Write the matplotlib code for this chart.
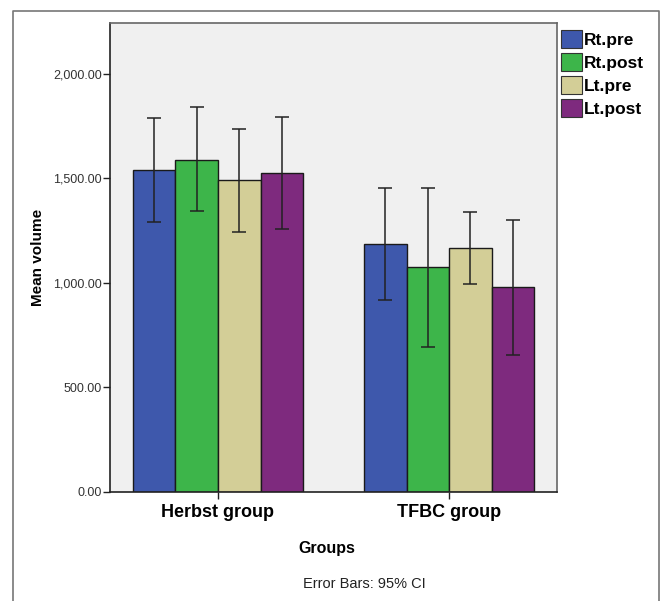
import matplotlib.pyplot as plt
import numpy as np
from matplotlib.lines import Line2D
from matplotlib.patches import Patch

plt.rcParams['font.family'] = ['Liberation Sans', 'DejaVu Sans']

groups = ['Herbst group', 'TFBC group']
series = ['Rt.pre', 'Rt.post', 'Lt.pre', 'Lt.post']
colors = ['#3E58AC', '#3DB54A', '#D3CE97', '#7E2A7E']

# mean volume per series, [Herbst, TFBC]
means = {
    'Rt.pre': [1540, 1187],
    'Rt.post': [1589, 1074],
    'Lt.pre': [1491, 1168],
    'Lt.post': [1526, 979],
}
ci_low = {
    'Rt.pre': [1293, 920],
    'Rt.post': [1345, 694],
    'Lt.pre': [1244, 993],
    'Lt.post': [1255, 656],
}
ci_high = {
    'Rt.pre': [1788, 1454],
    'Rt.post': [1839, 1454],
    'Lt.pre': [1737, 1340],
    'Lt.post': [1795, 1302],
}

fig = plt.figure(figsize=(6.61, 6.01), dpi=100)
ax = fig.add_axes([0.1664, 0.1814, 0.6763, 0.7803])
ax.set_facecolor('#F0F0F0')

x = np.arange(len(groups))
w = 0.184
for i, s in enumerate(series):
    pos = x + (i - 1.5) * w
    m = np.array(means[s])
    lo = m - np.array(ci_low[s])
    hi = np.array(ci_high[s]) - m
    ax.bar(pos, m, w, color=colors[i], edgecolor='#1a1a1a', linewidth=1, zorder=2)
    ax.errorbar(pos, m, yerr=[lo, hi], fmt='none', ecolor='#222222',
                elinewidth=1.1, capsize=5, capthick=1.1, zorder=3)

ax.set_xlim(-0.4675, 1.4675)
ax.set_ylim(0, 2242)
ax.set_yticks([0, 500, 1000, 1500, 2000])
ax.set_yticklabels(['0.00', '500.00', '1,000.00', '1,500.00', '2,000.00'],
                   fontsize=9, color='#333333')
ax.set_xticks(x)
ax.set_xticklabels(groups, fontsize=13, fontweight='bold')
ax.tick_params(axis='y', length=5, width=1, color='#222222', pad=1)
ax.tick_params(axis='x', length=5, width=1, color='#222222', pad=4)

for side in ['left', 'bottom']:
    ax.spines[side].set_color('#222222')
    ax.spines[side].set_linewidth(1.2)
for side in ['top', 'right']:
    ax.spines[side].set_color('#666666')
    ax.spines[side].set_linewidth(1.2)

ax.set_ylabel('Mean volume', fontsize=11, fontweight='bold', labelpad=5.5)
fig.text(0.495, 1 - 548 / 601, 'Groups', fontsize=11.5, fontweight='bold',
         ha='center', va='center')
fig.text(0.552, 1 - 584 / 601, 'Error Bars: 95% CI', fontsize=10.5,
         ha='center', va='center', color='#222222')

handles = [Patch(facecolor=c, edgecolor='#333333', linewidth=0.8) for c in colors]
fig.legend(handles, series, loc='upper left', bbox_to_anchor=(0.838, 0.962),
           frameon=False, prop={'size': 12.5, 'weight': 'bold'},
           handlelength=1.2, handleheight=1.2, handletextpad=0.15,
           labelspacing=0.3, borderaxespad=0)

# outer frame (left, top, right)
fig.add_artist(Line2D([13 / 661, 13 / 661, 659 / 661, 659 / 661],
                      [0, 1 - 11 / 601, 1 - 11 / 601, 0],
                      color='#777777', linewidth=1.2))

fig.savefig('out.png', dpi=100)
